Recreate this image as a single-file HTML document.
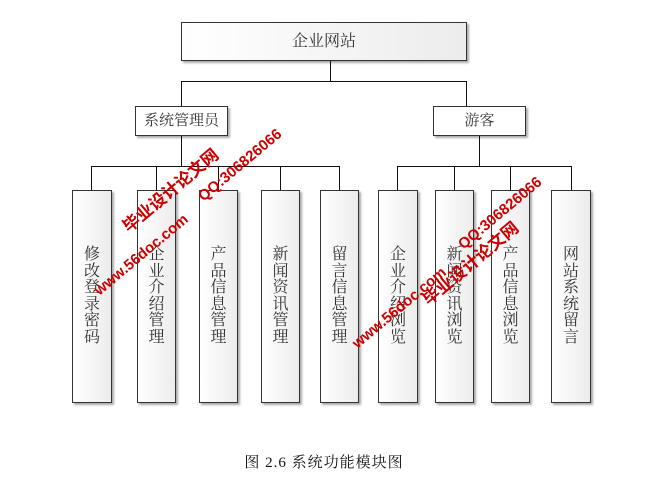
<!DOCTYPE html>
<html><head><meta charset="utf-8"><style>
body{margin:0;width:648px;height:488px;background:#fff;position:relative;overflow:hidden;font-family:"Liberation Serif","Noto Serif CJK SC",serif;}
.b{position:absolute;box-sizing:border-box;border:1px solid #333;background:linear-gradient(to right,#fff,#ececec);box-shadow:2px 2px 2px #aaa;color:#333;}
.h{text-align:center;font-size:15px;}
.v{display:flex;align-items:center;justify-content:center;}
.v span{width:16px;font-size:16px;line-height:16.5px;text-align:center;}
.l{position:absolute;background:#111;}
.w{position:absolute;color:#c00;font-family:"Liberation Sans","Noto Sans CJK SC",sans-serif;font-weight:bold;transform:rotate(-40deg);transform-origin:left bottom;white-space:nowrap;}
</style></head><body>
<div class="b h" style="left:181px;top:22px;width:286px;height:39px;line-height:37px;font-size:16px">企业网站</div>
<div class="l" style="left:330px;top:61px;width:1px;height:21px"></div>
<div class="l" style="left:181px;top:81px;width:286px;height:1px"></div>
<div class="l" style="left:181px;top:81px;width:1px;height:25px"></div>
<div class="l" style="left:466px;top:81px;width:1px;height:25px"></div>
<div class="b h" style="left:135px;top:106px;width:93px;height:30px;line-height:28px;background:#fff">系统管理员</div>
<div class="b h" style="left:433px;top:106px;width:93px;height:30px;line-height:28px;background:#fff">游客</div>
<div class="l" style="left:181px;top:136px;width:1px;height:30px"></div>
<div class="l" style="left:479px;top:136px;width:1px;height:30px"></div>
<div class="l" style="left:91px;top:166px;width:249px;height:1px"></div>
<div class="l" style="left:397px;top:166px;width:175px;height:1px"></div>
<div class="l" style="left:91px;top:166px;width:1px;height:24px"></div>
<div class="l" style="left:156px;top:166px;width:1px;height:24px"></div>
<div class="l" style="left:218px;top:166px;width:1px;height:24px"></div>
<div class="l" style="left:280px;top:166px;width:1px;height:24px"></div>
<div class="l" style="left:339px;top:166px;width:1px;height:24px"></div>
<div class="l" style="left:397px;top:166px;width:1px;height:24px"></div>
<div class="l" style="left:454px;top:166px;width:1px;height:24px"></div>
<div class="l" style="left:510px;top:166px;width:1px;height:24px"></div>
<div class="l" style="left:571px;top:166px;width:1px;height:24px"></div>
<div class="b v" style="left:72px;top:190px;width:40px;height:213px"><span>修改登录密码</span></div>
<div class="b v" style="left:137px;top:190px;width:39px;height:213px"><span>企业介绍管理</span></div>
<div class="b v" style="left:199px;top:190px;width:39px;height:213px"><span>产品信息管理</span></div>
<div class="b v" style="left:261px;top:190px;width:39px;height:213px"><span>新闻资讯管理</span></div>
<div class="b v" style="left:320px;top:190px;width:39px;height:213px"><span>留言信息管理</span></div>
<div class="b v" style="left:378px;top:190px;width:40px;height:213px"><span>企业介绍浏览</span></div>
<div class="b v" style="left:435px;top:190px;width:39px;height:213px"><span>新闻资讯浏览</span></div>
<div class="b v" style="left:491px;top:190px;width:39px;height:213px"><span>产品信息浏览</span></div>
<div class="b v" style="left:551px;top:190px;width:40px;height:213px"><span>网站系统留言</span></div>
<div class="w" style="left:132px;top:212px;font-size:17px">毕业设计论文网</div>
<div class="w" style="left:102px;top:282px;font-size:15px">www.56doc.com</div>
<div class="w" style="left:206px;top:188px;font-size:15px">QQ:306826066</div>
<div class="w" style="left:432px;top:285px;font-size:17px">毕业设计论文网</div>
<div class="w" style="left:360px;top:335px;font-size:15px">www.56doc.com</div>
<div class="w" style="left:466px;top:236px;font-size:15px">QQ:306826066</div>
<div style="position:absolute;left:0;width:648px;top:451px;text-align:center;font-size:15px;letter-spacing:1px;color:#111">图 2.6 系统功能模块图</div>
</body></html>
